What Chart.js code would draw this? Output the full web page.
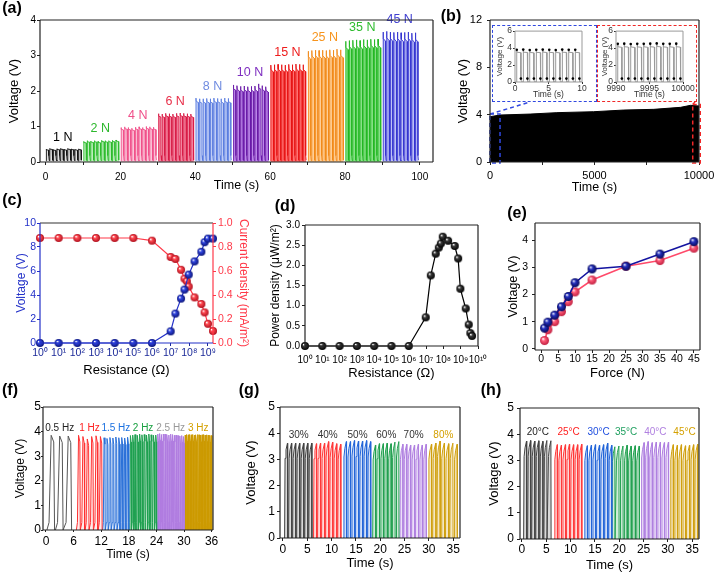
<!DOCTYPE html>
<html>
<head>
<meta charset="utf-8">
<title>Output under force, load, frequency, humidity and temperature</title>
<script src="https://cdn.jsdelivr.net/npm/chart.js@4.4.1/dist/chart.umd.min.js"></script>
<style>
  html, body { margin: 0; padding: 0; background: #fff; }
  #fig { position: relative; width: 717px; height: 574px; overflow: hidden; font-family: 'Liberation Sans', Arial, sans-serif; }
  #fig canvas { position: absolute; }
  .tag { position: absolute; font-weight: bold; font-size: 16px; transform: translate(-50%, -50%); white-space: nowrap; z-index: 5; }
  .zoomBox { position: absolute; box-sizing: border-box; background: #fff; border: 1.5px dashed; z-index: 2; }
</style>
</head>
<body>
<div id="fig">
  <div class="zoomBox" id="win1" style="left:492px;top:25px;width:105px;height:77px;border-color:#3048e0"></div>
  <div class="zoomBox" id="win2" style="left:597px;top:25px;width:100px;height:77px;border-color:#f02828"></div>
</div>
<script>
// ---------- values ----------

// (a) voltage at different forces, one 10 s block per force
const forceNames = ['1 N', '2 N', '4 N', '6 N', '8 N', '10 N', '15 N', '25 N', '35 N', '45 N'];
const forceStart = [0, 10, 20, 30, 40, 50, 60, 70, 80, 90];
const forcePeaks = [
  [0.36, 0.38, 0.35, 0.37, 0.38, 0.36, 0.38, 0.37, 0.36, 0.37],
  [0.58, 0.60, 0.59, 0.60, 0.58, 0.61, 0.60, 0.60, 0.61, 0.62],
  [0.97, 0.99, 0.97, 0.95, 0.98, 0.99, 0.97, 1.00, 0.99, 0.98],
  [1.36, 1.35, 1.37, 1.36, 1.35, 1.37, 1.38, 1.37, 1.36, 1.35],
  [1.80, 1.78, 1.78, 1.79, 1.78, 1.80, 1.79, 1.78, 1.80, 1.79],
  [2.17, 2.15, 2.13, 2.14, 2.12, 2.13, 2.14, 2.20, 2.15, 2.12],
  [2.73, 2.74, 2.75, 2.74, 2.73, 2.75, 2.74, 2.76, 2.75, 2.74],
  [3.12, 3.14, 3.15, 3.14, 3.15, 3.14, 3.16, 3.15, 3.18, 3.16],
  [3.40, 3.42, 3.43, 3.44, 3.42, 3.45, 3.44, 3.46, 3.45, 3.46],
  [3.66, 3.68, 3.66, 3.65, 3.66, 3.64, 3.65, 3.66, 3.63, 3.64]
];

// (b) 10000 s run: top edge of the black band, plus the two enlarged windows
const runTime = [0, 480, 1920, 3200, 4960, 6400, 7840, 9120, 9600, 10000];
const runPeak = [3.83, 3.97, 4.05, 4.17, 4.25, 4.39, 4.45, 4.62, 4.79, 4.73];
const firstPeaks = [3.80, 3.82, 3.78, 3.80, 3.82, 3.80, 3.78, 3.82, 3.80, 3.80];
const lastPeaks = [4.50, 4.52, 4.48, 4.50, 4.50, 4.52, 4.55, 4.50, 4.50, 4.52];
const zoomWindows = [
  { from: 0, to: 480, top: 4.05, color: '#3048e0', box: 'win1' },
  { from: 9700, to: 10060, top: 4.85, color: '#f02828', box: 'win2' }
];

// (c) voltage and current density against load resistance
const resV = [1, 10, 100, 1e3, 1e4, 1e5, 1e6, 1e7, 1.8e7, 3.6e7, 5.5e7, 9.3e7, 1.9e8, 4.4e8, 6.6e8, 1e9, 1.86e9];
const voltV = [0, 0, 0, 0, 0, 0, 0, 0.97, 2.45, 3.7, 4.45, 5.7, 6.8, 7.6, 8.4, 8.7, 8.7];
const resI = [1, 10, 100, 1e3, 1e4, 1e5, 1e6, 1e7, 1.8e7, 3.6e7, 5.5e7, 7.4e7, 9.3e7, 1.9e8, 4.4e8, 6.6e8, 1e9, 1.86e9];
const currI = [0.875, 0.875, 0.875, 0.875, 0.875, 0.875, 0.853, 0.717, 0.70, 0.61, 0.536, 0.514, 0.47, 0.38, 0.325, 0.255, 0.16, 0.10];
const decadesC = [1, 10, 100, 1e3, 1e4, 1e5, 1e6, 1e7, 1e8, 1e9];

// (d) power density against load resistance
const resP = [1, 10, 100, 1e3, 1e4, 1e5, 1e6, 9.5e6, 1.86e7, 3.6e7, 5.4e7, 7.1e7, 9.1e7, 1.86e8, 4.5e8, 7.1e8, 9.5e8, 1.95e9, 2.9e9, 3.6e9, 4.5e9];
const powP = [0, 0, 0, 0, 0, 0, 0, 0.71, 1.75, 2.29, 2.44, 2.54, 2.71, 2.61, 2.48, 2.17, 1.42, 0.93, 0.53, 0.32, 0.25];
const decadesD = [1, 10, 100, 1e3, 1e4, 1e5, 1e6, 1e7, 1e8, 1e9, 1e10];

// (e) peak voltage against force, two runs
const forceN = [1, 2, 4, 6, 8, 10, 15, 25, 35, 45];
const voltBlue = [0.76, 0.98, 1.24, 1.55, 1.93, 2.44, 2.95, 3.05, 3.50, 3.96];
const voltRed = [0.30, 0.70, 1.00, 1.37, 1.74, 2.10, 2.54, 3.05, 3.26, 3.72];

// (f) frequency blocks
const freqNames = ['0.5 Hz', '1 Hz', '1.5 Hz', '2 Hz', '2.5 Hz', '3 Hz'];
const freqStart = [0.2, 6.6, 12.3, 18.1, 24.1, 30.1];
const freqPeriod = [1.85, 0.95, 0.64, 0.5, 0.4, 0.333];
const freqPeaks = [
  [3.85, 3.82, 3.82],
  [3.85, 3.80, 3.70, 3.80, 3.83, 3.80],
  [3.75, 3.72, 3.76, 3.74, 3.78, 3.75, 3.76, 3.74, 3.77],
  [3.84, 3.86, 3.88, 3.85, 3.90, 3.87, 3.88, 3.86, 3.90, 3.87, 3.85, 3.86],
  [3.90, 3.92, 3.88, 3.90, 3.90, 3.88, 3.86, 3.90, 3.88, 3.85, 3.86, 3.84, 3.82, 3.84, 3.80],
  [3.86, 3.88, 3.87, 3.88, 3.87, 3.88, 3.86, 3.87, 3.88, 3.87, 3.86, 3.87, 3.88, 3.86, 3.87, 3.86, 3.85, 3.84]
];

// (g) humidity blocks
const humNames = ['30%', '40%', '50%', '60%', '70%', '80%'];
const humStart = [0.34, 6.29, 12.44, 18.45, 24.06, 29.9];
const humPeriod = [0.83, 0.83, 0.83, 0.80, 0.80, 0.88];
const humPeaks = [
  [3.62, 3.62, 3.62, 3.62, 3.62, 3.62, 3.62],
  [3.60, 3.62, 3.62, 3.68, 3.66, 3.60, 3.58],
  [3.68, 3.68, 3.72, 3.70, 3.70, 3.72, 3.68],
  [3.55, 3.60, 3.60, 3.62, 3.60, 3.66, 3.68],
  [3.58, 3.58, 3.55, 3.55, 3.58, 3.55, 3.58],
  [3.58, 3.62, 3.70, 3.62, 3.60, 3.62, 3.58]
];

// (h) temperature blocks
const tempNames = ['20°C', '25°C', '30°C', '35°C', '40°C', '45°C'];
const tempStart = [0.34, 6.66, 12.83, 18.5, 24.5, 30.5];
const tempPeriod = [0.835, 0.835, 0.835, 0.835, 0.835, 0.835];
const tempPeaks = [
  [3.74, 3.76, 3.74, 3.75, 3.73, 3.76, 3.75],
  [3.60, 3.58, 3.60, 3.62, 3.60, 3.60, 3.62],
  [3.56, 3.58, 3.60, 3.58, 3.60, 3.66, 3.58],
  [3.52, 3.55, 3.55, 3.58, 3.55, 3.56, 3.55],
  [3.68, 3.72, 3.68, 3.70, 3.70, 3.68, 3.70],
  [3.60, 3.58, 3.60, 3.56, 3.58, 3.60, 3.62]
];

// ---------- pulse outlines: [part of period, part of peak, offset in V] ----------
const shapeA = [[0, 0, 0.03], [0.02, 1, 0], [0.1, 0.95, 0], [0.7, 0.93, 0], [0.72, 0, 0.18], [0.85, 0, 0.05]];
const shapeIns = [[0, 0, 0], [0.01, 1, 0], [0.08, 0.92, 0], [0.64, 0.91, 0], [0.65, 0, 0.4], [0.72, 0, 0.05], [0.99, 0, 0]];
const shapeF = [[0, 0, 0], [0.25, 0.08, 0], [0.5, 1, 0], [0.8, 0.93, 0], [0.9, 0, 0]];
const shapeG = [[0, 0, 0], [0.12, 0.84, 0], [0.35, 0.93, 0], [0.72, 1, 0], [0.77, 0, 0]];

// ---------- chart setup ----------
const FONT = "'Liberation Sans', Arial, sans-serif";
Chart.defaults.font.family = FONT;
Chart.defaults.color = '#000';
Chart.defaults.animation = false;
Chart.defaults.events = [];
Chart.defaults.plugins.legend.display = false;
Chart.defaults.plugins.tooltip.enabled = false;

const fig = document.getElementById('fig');

function train(start, period, peaks, shape) {
  const pts = [];
  peaks.forEach((p, k) => {
    const t0 = start + k * period;
    shape.forEach(s => pts.push({ x: t0 + s[0] * period, y: s[1] * p + s[2] }));
  });
  return pts;
}

function xy(xs, ys) {
  return xs.map((x, i) => ({ x: x, y: ys[i] }));
}

function wave(points, line, fillColor, width) {
  return {
    data: points, borderColor: line, backgroundColor: fillColor || 'transparent',
    fill: fillColor ? 'origin' : false, borderWidth: width || 1, pointRadius: 0, tension: 0
  };
}

// shaded ball used as point marker
function ball(base, dark, r) {
  const c = document.createElement('canvas');
  const s = Math.ceil(r * 2 + 2);
  c.width = c.height = s;
  const g = c.getContext('2d');
  const h = s / 2;
  const grad = g.createRadialGradient(h - r * 0.35, h - r * 0.4, r * 0.05, h, h, r);
  grad.addColorStop(0, '#ffffff');
  grad.addColorStop(0.35, base);
  grad.addColorStop(1, dark);
  g.fillStyle = grad;
  g.beginPath();
  g.arc(h, h, r, 0, Math.PI * 2);
  g.fill();
  return c;
}

function axis(o) {
  const ax = {
    type: o.type || 'linear',
    min: o.min, max: o.max,
    afterFit: s => { if (s.isHorizontal()) s.height = o.size; else s.width = o.size; },
    grid: { drawOnChartArea: false, drawTicks: true, tickLength: o.tick || 3, color: o.color || '#222' },
    border: { display: false },
    ticks: {
      stepSize: o.step, includeBounds: false, autoSkip: false, maxRotation: 0,
      padding: o.pad, color: o.color || '#000', font: { size: o.font }
    },
    title: { display: true, text: o.title, padding: 0, color: o.tcolor || o.color || '#000', font: { size: o.tfont } }
  };
  if (o.position) ax.position = o.position;
  if (o.cb) ax.ticks.callback = o.cb;
  if (o.values) ax.afterBuildTicks = s => { s.ticks = o.values.map(v => ({ value: v })); };
  return ax;
}

// box round the plot area, each side may have its own colour
function frame(opts) {
  return {
    id: 'frame',
    afterDraw(chart) {
      const a = chart.chartArea, ctx = chart.ctx;
      const side = (x1, y1, x2, y2, c) => {
        ctx.beginPath(); ctx.moveTo(x1, y1); ctx.lineTo(x2, y2);
        ctx.strokeStyle = c || opts.color || '#222'; ctx.stroke();
      };
      ctx.save();
      ctx.lineWidth = opts.width || 1.2;
      side(a.left, a.top, a.right, a.top, opts.top);
      side(a.right, a.top, a.right, a.bottom, opts.right);
      side(a.left, a.bottom, a.right, a.bottom, opts.bottom);
      side(a.left, a.top, a.left, a.bottom, opts.left);
      ctx.restore();
    }
  };
}

// text notes placed in data units
function notes(items, size) {
  return {
    id: 'notes',
    afterDatasetsDraw(chart) {
      const ctx = chart.ctx, sx = chart.scales.x, sy = chart.scales.y;
      ctx.save();
      ctx.font = size + 'px ' + FONT;
      ctx.textAlign = 'center';
      ctx.textBaseline = 'middle';
      items.forEach(n => {
        ctx.fillStyle = n.color;
        ctx.fillText(n.text, sx.getPixelForValue(n.x), sy.getPixelForValue(n.y));
      });
      ctx.restore();
    }
  };
}

function panel(box, m, datasets, scales, plugins) {
  const cv = document.createElement('canvas');
  cv.width = box.r - box.l + m.l + m.r;
  cv.height = box.b - box.t + m.t + m.b;
  cv.style.left = (box.l - m.l) + 'px';
  cv.style.top = (box.t - m.t) + 'px';
  if (m.z) cv.style.zIndex = m.z;
  fig.appendChild(cv);
  return new Chart(cv, {
    type: 'line',
    data: { datasets: datasets },
    options: {
      responsive: false,
      layout: { padding: { top: m.t, right: scales.y2 ? 0 : m.r, left: 0, bottom: 0 } },
      scales: scales
    },
    plugins: plugins
  });
}

const sup = '⁰¹²³⁴⁵⁶⁷⁸⁹';
const pow10 = v => '10' + String(Math.round(Math.log10(v))).split('').map(d => sup[d]).join('');
const plain = v => String(v);

// ---------- (a) ----------
const aLine = ['#111111', '#2dbb2d', '#f0508a', '#d81c46', '#5a7de0', '#6a1aa8', '#e81414', '#f28a1a', '#22b822', '#3434d0'];
const aFill = ['rgba(0,0,0,0.12)', 'rgba(70,205,70,0.35)', 'rgba(245,130,170,0.45)', 'rgba(238,80,118,0.7)',
  'rgba(150,172,240,0.6)', 'rgba(165,95,225,0.75)', 'rgba(255,70,70,0.75)', 'rgba(255,185,105,0.7)',
  'rgba(85,212,85,0.7)', 'rgba(145,152,240,0.6)'];
const aText = ['#000', '#2db82d', '#f0508a', '#e8304a', '#6f8be0', '#7f2fc0', '#ee1c1c', '#f7941d', '#2dbb2d', '#4040d0'];
panel({ l: 40, t: 20, r: 433, b: 162 }, { l: 33, t: 14, r: 6, b: 31 },
  forcePeaks.map((pk, i) => wave(train(forceStart[i] + 0.15, 0.96, pk, shapeA), aLine[i], aFill[i], 0.9)),
  {
    x: axis({ min: -1.5, max: 103.5, step: 10, size: 31, pad: 6, font: 10, title: 'Time (s)', tfont: 12.5, cb: v => (v % 20 === 0 ? v : '') }),
    y: axis({ min: 0, max: 4, step: 1, size: 33, pad: 1, font: 10, title: 'Voltage (V)', tfont: 13 })
  },
  [frame({}), notes(forceNames.map((n, i) => ({ text: n, x: forceStart[i] + 4.6, y: Math.max(...forcePeaks[i]) + 0.32, color: aText[i] })), 12.5)]);

// ---------- (b) ----------
const windowMarks = {
  id: 'windowMarks',
  afterDatasetsDraw(chart) {
    const ctx = chart.ctx, sx = chart.scales.x, sy = chart.scales.y;
    const y0 = sy.getPixelForValue(0);
    ctx.save();
    ctx.lineWidth = 1.5;
    ctx.setLineDash([4, 3]);
    zoomWindows.forEach((w, i) => {
      const x1 = sx.getPixelForValue(w.from), x2 = sx.getPixelForValue(w.to), yt = sy.getPixelForValue(w.top);
      ctx.strokeStyle = w.color;
      ctx.strokeRect(x1, yt, x2 - x1, y0 - yt + 1);
      // dashed lead up to the enlarged copy
      const el = document.getElementById(w.box);
      const bx = el.offsetLeft - chart.canvas.offsetLeft;
      const by = el.offsetTop + el.offsetHeight - chart.canvas.offsetTop;
      ctx.beginPath();
      ctx.moveTo(x1, yt);
      ctx.lineTo(i === 0 ? bx + 38 : bx + el.offsetWidth - 2, by);
      ctx.stroke();
    });
    ctx.restore();
  }
};
panel({ l: 490, t: 20, r: 699, b: 162 }, { l: 34, t: 14, r: 20, b: 33 },
  [wave(xy(runTime, runPeak), '#000', '#000', 1)],
  {
    x: axis({ min: 0, max: 10000, step: 2500, size: 33, pad: 4, font: 11, title: 'Time (s)', tfont: 12.5, cb: v => (v % 5000 === 0 ? String(v) : '') }),
    y: axis({ min: 0, max: 12, step: 4, size: 34, pad: 5, font: 11, title: 'Voltage (V)', tfont: 13 })
  },
  [frame({}), windowMarks]);

// enlarged windows
function insetSet(points) {
  return {
    data: points, borderColor: '#9a9a9a', borderWidth: 1, fill: false, tension: 0,
    pointRadius: c => ((c.dataIndex % shapeIns.length === 1 || c.dataIndex % shapeIns.length === 4) ? 1.3 : 0),
    pointBackgroundColor: '#000', pointBorderWidth: 0
  };
}
panel({ l: 515, t: 31, r: 582, b: 82 }, { l: 20, t: 6, r: 10, b: 18, z: 3 },
  [insetSet(train(0.25, 0.97, firstPeaks, shapeIns))],
  {
    x: axis({ min: 0, max: 10, step: 5, size: 18, pad: 0, tick: 2, font: 8.5, color: '#333', title: 'Time (s)', tfont: 8.5, cb: plain }),
    y: axis({ min: 0, max: 6, step: 2, size: 20, pad: 1, tick: 2, font: 8.5, color: '#333', title: 'Voltage (V)', tfont: 8, cb: plain })
  },
  [frame({ color: '#999', width: 1 })]);
panel({ l: 616, t: 31, r: 683, b: 82 }, { l: 16, t: 6, r: 13, b: 18, z: 3 },
  [insetSet(train(9990.25, 0.97, lastPeaks, shapeIns))],
  {
    x: axis({ min: 9990, max: 10000, step: 5, size: 18, pad: 0, tick: 2, font: 8.5, color: '#333', title: 'Time (s)', tfont: 8.5, cb: plain }),
    y: axis({ min: 0, max: 6, step: 2, size: 16, pad: 1, tick: 2, font: 8.5, color: '#333', title: 'Voltage (V)', tfont: 8, cb: plain })
  },
  [frame({ color: '#999', width: 1 })]);

// ---------- (c) ----------
const cBlue = '#2230c8', cRed = '#ff3848';
panel({ l: 40, t: 223, r: 213, b: 343 }, { l: 26, t: 14, r: 38, b: 35 },
  [
    { data: xy(resV, voltV), yAxisID: 'y', borderColor: cBlue, borderWidth: 1.2, pointStyle: ball('#3146e0', '#0b1478', 4), pointRadius: 4, clip: false, tension: 0 },
    { data: xy(resI, currI), yAxisID: 'y2', borderColor: cRed, borderWidth: 1.2, pointStyle: ball('#ff4a52', '#b0101e', 4), pointRadius: 4, clip: false, tension: 0 }
  ],
  {
    x: axis({ type: 'logarithmic', min: 1, max: 1.86e9, values: decadesC, size: 35, pad: 1, font: 10.5, color: '#1c2a99', tcolor: '#000', title: 'Resistance (Ω)', tfont: 13, cb: pow10 }),
    y: axis({ min: 0, max: 10, step: 2, size: 26, pad: 1, font: 10.5, color: cBlue, title: 'Voltage (V)', tfont: 12 }),
    y2: axis({ position: 'right', min: 0, max: 1, step: 0.2, size: 38, pad: 2, font: 10.5, color: cRed, title: 'Current density (mA/m²)', tfont: 12, cb: v => v.toFixed(1) })
  },
  [frame({ top: '#333', left: cBlue, bottom: cBlue, right: cRed })]);

// ---------- (d) ----------
panel({ l: 305, t: 225, r: 478, b: 346 }, { l: 37, t: 14, r: 15, b: 35 },
  [{ data: xy(resP, powP), borderColor: '#000', borderWidth: 1.2, pointStyle: ball('#3a3a3a', '#000', 4), pointRadius: 4, clip: false, tension: 0 }],
  {
    x: axis({ type: 'logarithmic', min: 1, max: 1e10, values: decadesD, size: 35, pad: 5, font: 10, title: 'Resistance (Ω)', tfont: 13, cb: pow10 }),
    y: axis({ min: 0, max: 3, step: 0.5, size: 37, pad: 2, font: 10, title: 'Power density (μW/m²)', tfont: 12, cb: v => v.toFixed(1) })
  },
  [frame({})]);

// ---------- (e) ----------
panel({ l: 535, t: 223, r: 700, b: 350 }, { l: 29, t: 14, r: 8, b: 31 },
  [
    { data: xy(forceN, voltBlue), borderColor: '#1414a0', borderWidth: 1.6, pointStyle: ball('#2430c0', '#080a58', 4.5), pointRadius: 4.5, clip: false, tension: 0 },
    { data: xy(forceN, voltRed), borderColor: '#ff4a6a', borderWidth: 1.6, pointStyle: ball('#ff5a78', '#c02040', 4.5), pointRadius: 4.5, clip: false, tension: 0 }
  ],
  {
    x: axis({ min: -1.8, max: 46.8, step: 5, size: 31, pad: 0, font: 10.5, title: 'Force (N)', tfont: 13 }),
    y: axis({ min: -0.05, max: 4.65, step: 1, size: 29, pad: 4, font: 10.5, title: 'Voltage (V)', tfont: 12.5 })
  },
  [frame({})]);

// ---------- (f) ----------
const fLine = ['#555555', '#ff3030', '#2a70d8', '#1fa050', '#b07de0', '#cc9a00'];
const fFill = [null, 'rgba(255,90,90,0.12)', 'rgba(60,120,220,0.15)', 'rgba(40,170,80,0.2)', 'rgba(182,128,232,0.9)', 'rgba(206,156,0,0.92)'];
const fText = ['#222', '#ff2020', '#1a70e0', '#18a040', '#999999', '#d4a000'];
panel({ l: 43, t: 407, r: 213, b: 530 }, { l: 30, t: 14, r: 9, b: 32 },
  freqPeaks.map((pk, i) => wave(train(freqStart[i], freqPeriod[i], pk, shapeF), fLine[i], fFill[i], 1)),
  {
    x: axis({ min: -0.65, max: 36.3, step: 6, size: 32, pad: 2, tick: 2, font: 12, title: 'Time (s)', tfont: 12 }),
    y: axis({ min: 0, max: 5, step: 1, size: 30, pad: 0, tick: 2, font: 12, title: 'Voltage (V)', tfont: 12 })
  },
  [frame({}), notes(freqNames.map((n, i) => ({ text: n, x: freqStart[i] + freqPeaks[i].length * freqPeriod[i] / 2, y: 4.15, color: fText[i] })), 10)]);

// ---------- (g) ----------
const gLine = ['#444444', '#ff3a3a', '#2466d8', '#22a050', '#b080e0', '#d0a010'];
const gFill = ['rgba(80,80,80,0.22)', 'rgba(255,80,80,0.22)', 'rgba(50,110,220,0.22)', 'rgba(40,170,80,0.22)', 'rgba(180,130,230,0.25)', 'rgba(210,160,20,0.25)'];
const gText = ['#333', '#333', '#333', '#333', '#333', '#d4a000'];
panel({ l: 280, t: 407, r: 460, b: 538 }, { l: 36, t: 14, r: 7, b: 33 },
  humPeaks.map((pk, i) => wave(train(humStart[i], humPeriod[i], pk, shapeG), gLine[i], gFill[i], 1)),
  {
    x: axis({ min: -0.6, max: 36.4, step: 5, size: 33, pad: 1, font: 12, title: 'Time (s)', tfont: 13 }),
    y: axis({ min: 0, max: 5, step: 1, size: 36, pad: 2, font: 12, title: 'Voltage (V)', tfont: 13 })
  },
  [frame({}), notes(humNames.map((n, i) => ({ text: n, x: humStart[i] + humPeaks[i].length * humPeriod[i] / 2, y: 3.94, color: gText[i] })), 10)]);

// ---------- (h) ----------
const hText = ['#222', '#ff2020', '#2050e0', '#20a060', '#b080e0', '#d4a000'];
panel({ l: 520, t: 408, r: 699, b: 539 }, { l: 33, t: 14, r: 10, b: 34 },
  tempPeaks.map((pk, i) => wave(train(tempStart[i], tempPeriod[i], pk, shapeG), gLine[i], gFill[i], 1)),
  {
    x: axis({ min: -0.4, max: 36.4, step: 5, size: 34, pad: 0, font: 12, title: 'Time (s)', tfont: 13 }),
    y: axis({ min: 0, max: 5, step: 1, size: 33, pad: 3, font: 12, title: 'Voltage (V)', tfont: 13 })
  },
  [frame({}), notes(tempNames.map((n, i) => ({ text: n, x: tempStart[i] + tempPeaks[i].length * tempPeriod[i] / 2, y: 4.08, color: hText[i] })), 10)]);

// panel letters
[['(a)', 12, 8], ['(b)', 451, 16], ['(c)', 12, 200], ['(d)', 285, 206], ['(e)', 517, 213],
 ['(f)', 10, 390], ['(g)', 249, 390], ['(h)', 491, 390]].forEach(t => {
  const d = document.createElement('div');
  d.className = 'tag';
  d.textContent = t[0];
  d.style.left = t[1] + 'px';
  d.style.top = t[2] + 'px';
  fig.appendChild(d);
});
</script>
</body>
</html>
